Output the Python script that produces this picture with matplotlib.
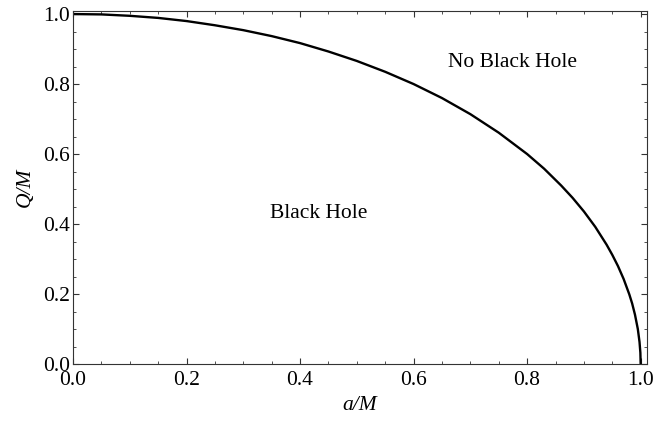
import matplotlib
matplotlib.use("Agg")
import matplotlib.pyplot as plt
from matplotlib.ticker import MultipleLocator

plt.rcParams['font.family'] = ['Liberation Serif', 'DejaVu Serif']

# curve values: spin a/M and charge Q/M on the extremal boundary
a_over_M = [0.00, 0.05, 0.10, 0.15, 0.20, 0.25, 0.30, 0.35, 0.40, 0.45,
            0.50, 0.55, 0.60, 0.65, 0.70, 0.75, 0.80, 0.83, 0.86, 0.88,
            0.90, 0.92, 0.94, 0.95, 0.96, 0.97, 0.98, 0.985, 0.99, 0.995,
            0.998, 0.9995, 1.00]
Q_over_M = [1.000, 0.999, 0.995, 0.989, 0.980, 0.968, 0.954, 0.937, 0.917, 0.893,
            0.866, 0.835, 0.800, 0.760, 0.714, 0.661, 0.600, 0.558, 0.510, 0.475,
            0.436, 0.392, 0.341, 0.312, 0.280, 0.243, 0.199, 0.173, 0.141, 0.100,
            0.063, 0.032, 0.000]

region_labels = ["Black Hole", "No Black Hole"]
region_pos = [(0.433, 0.431), (0.775, 0.863)]

fs = 15.5

fig = plt.figure(figsize=(6.54, 4.25), dpi=100)
ax = fig.add_axes([0.1116, 0.1435, 0.8772, 0.8305])

ax.plot(a_over_M, Q_over_M, color='black', lw=1.7, solid_capstyle='butt')

for lab, (x, y) in zip(region_labels, region_pos):
    ax.text(x, y, lab, fontsize=fs, ha='center', va='center')

ax.set_xlim(0, 1.0106)
ax.set_ylim(0, 1.0086)

ax.xaxis.set_major_locator(MultipleLocator(0.2))
ax.xaxis.set_minor_locator(MultipleLocator(0.05))
ax.yaxis.set_major_locator(MultipleLocator(0.2))
ax.yaxis.set_minor_locator(MultipleLocator(0.05))
ax.xaxis.set_major_formatter(lambda v, p: f"{v:.1f}")
ax.yaxis.set_major_formatter(lambda v, p: f"{v:.1f}")

ax.tick_params(which='both', direction='in', top=True, right=True,
               labelsize=fs, pad=2, color='#333333')
ax.tick_params(axis='x', which='both', pad=5)
ax.tick_params(which='major', length=4.5, width=0.8)
ax.tick_params(which='minor', length=2.5, width=0.6)

for s in ax.spines.values():
    s.set_linewidth(0.8)
    s.set_color('#333333')

ax.set_xlabel("a/M", fontsize=fs, fontstyle='italic', labelpad=4)
ax.set_ylabel("Q/M", fontsize=fs, fontstyle='italic', labelpad=6)

fig.savefig("out.png", dpi=100)
